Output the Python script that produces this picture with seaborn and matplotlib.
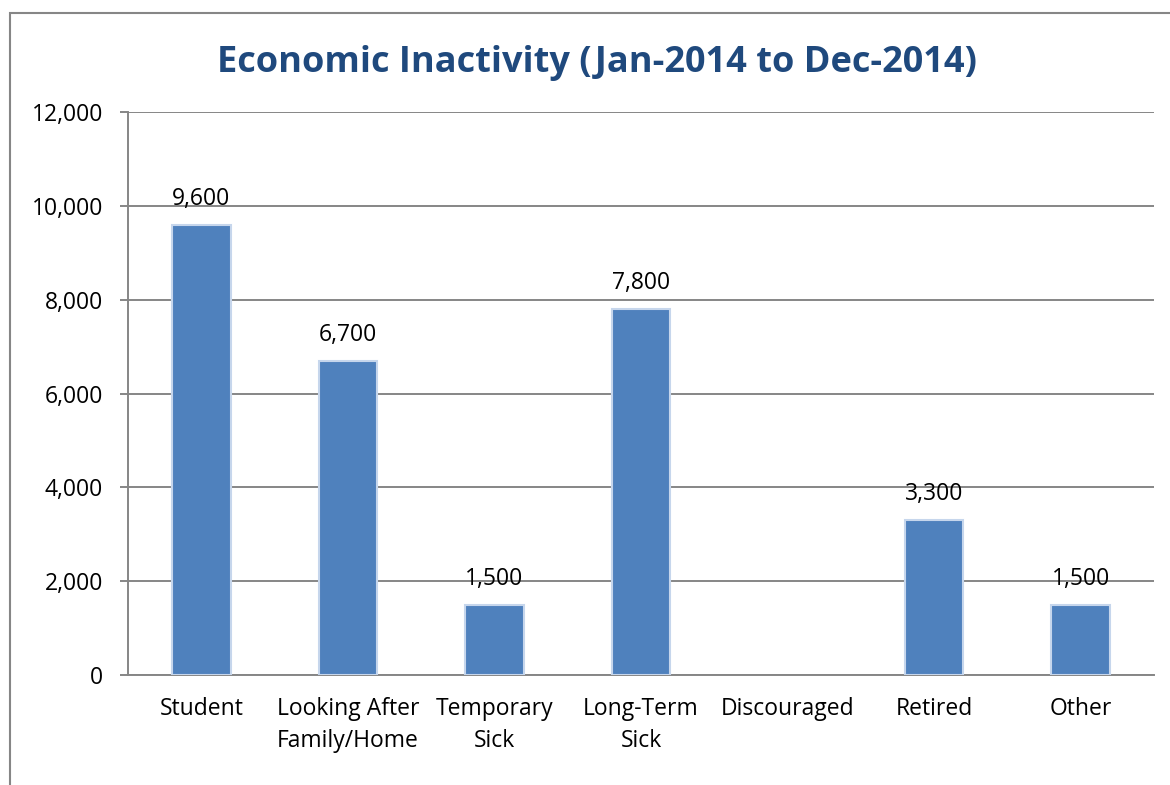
import numpy as np
import pandas as pd
import seaborn as sns
import matplotlib.pyplot as plt
from matplotlib.patches import Rectangle

# data
categories = ["Student", "Looking After\nFamily/Home", "Temporary\nSick", "Long-Term\nSick",
              "Discouraged", "Retired", "Other"]
values = [9600, 6700, 1500, 7800, np.nan, 3300, 1500]
y_ticks = [0, 2000, 4000, 6000, 8000, 10000, 12000]

df = pd.DataFrame({"Category": categories, "Count": values})

sns.set_style("white")
plt.rcParams['font.family'] = ['Open Sans', 'DejaVu Sans']
plt.rcParams['text.color'] = 'black'
plt.rcParams['xtick.color'] = 'black'
plt.rcParams['ytick.color'] = 'black'

fig = plt.figure(figsize=(11.7, 7.85), dpi=100)
ax = fig.add_axes([128 / 1170, 1 - 675 / 785, (1154 - 128) / 1170, (675 - 112) / 785])

bar_blue = "#4F81BD"
sns.barplot(data=df, x="Category", y="Count", color=bar_blue, width=0.4,
            edgecolor="#C6D6EC", linewidth=1.5, saturation=1, ax=ax, zorder=3)

# value labels above bars
for i, v in enumerate(values):
    if np.isnan(v):
        continue
    ax.annotate(f"{int(v):,}", (i, v), xytext=(0, 10), textcoords="offset points",
                ha="center", va="bottom", fontsize=16.5, color="black")

ax.set_ylim(0, 12000)
ax.set_xlim(-0.5, len(categories) - 0.5)
ax.set_yticks(y_ticks)
ax.set_yticklabels([f"{t:,}" for t in y_ticks], fontsize=16.5)
ax.yaxis.grid(True, color="#868686", linewidth=1.4, zorder=0)
ax.set_axisbelow(True)

# category boundary ticks on x
ax.set_xticks(np.arange(-0.5, len(categories)), minor=True)
ax.tick_params(axis="x", which="major", length=0, pad=16, labelsize=16.5, labelcolor="black")
ax.tick_params(axis="x", which="minor", length=6, width=1.4, color="#868686")
ax.tick_params(axis="y", which="major", length=6, width=1.4, color="#868686", pad=12,
               left=True, labelcolor="black")
for lbl in ax.get_xticklabels():
    lbl.set_linespacing(1.45)

for side in ["top", "right"]:
    ax.spines[side].set_visible(False)
for side in ["left", "bottom"]:
    ax.spines[side].set_color("#868686")
    ax.spines[side].set_linewidth(1.4)

ax.set_xlabel("")
ax.set_ylabel("")

fig.text(0.51, 1 - 63 / 785, "Economic Inactivity (Jan-2014 to Dec-2014)",
         ha="center", va="center", fontsize=26, fontweight="bold", color="#1F497D")

# chart area border (runs off the right and bottom edge)
fig.patches.append(Rectangle((10 / 1170, -0.1), 1.2, 1 - 13 / 785 + 0.1,
                             transform=fig.transFigure, fill=False,
                             edgecolor="#868686", linewidth=1.5))

fig.savefig("out.png", dpi=100, facecolor="white")
